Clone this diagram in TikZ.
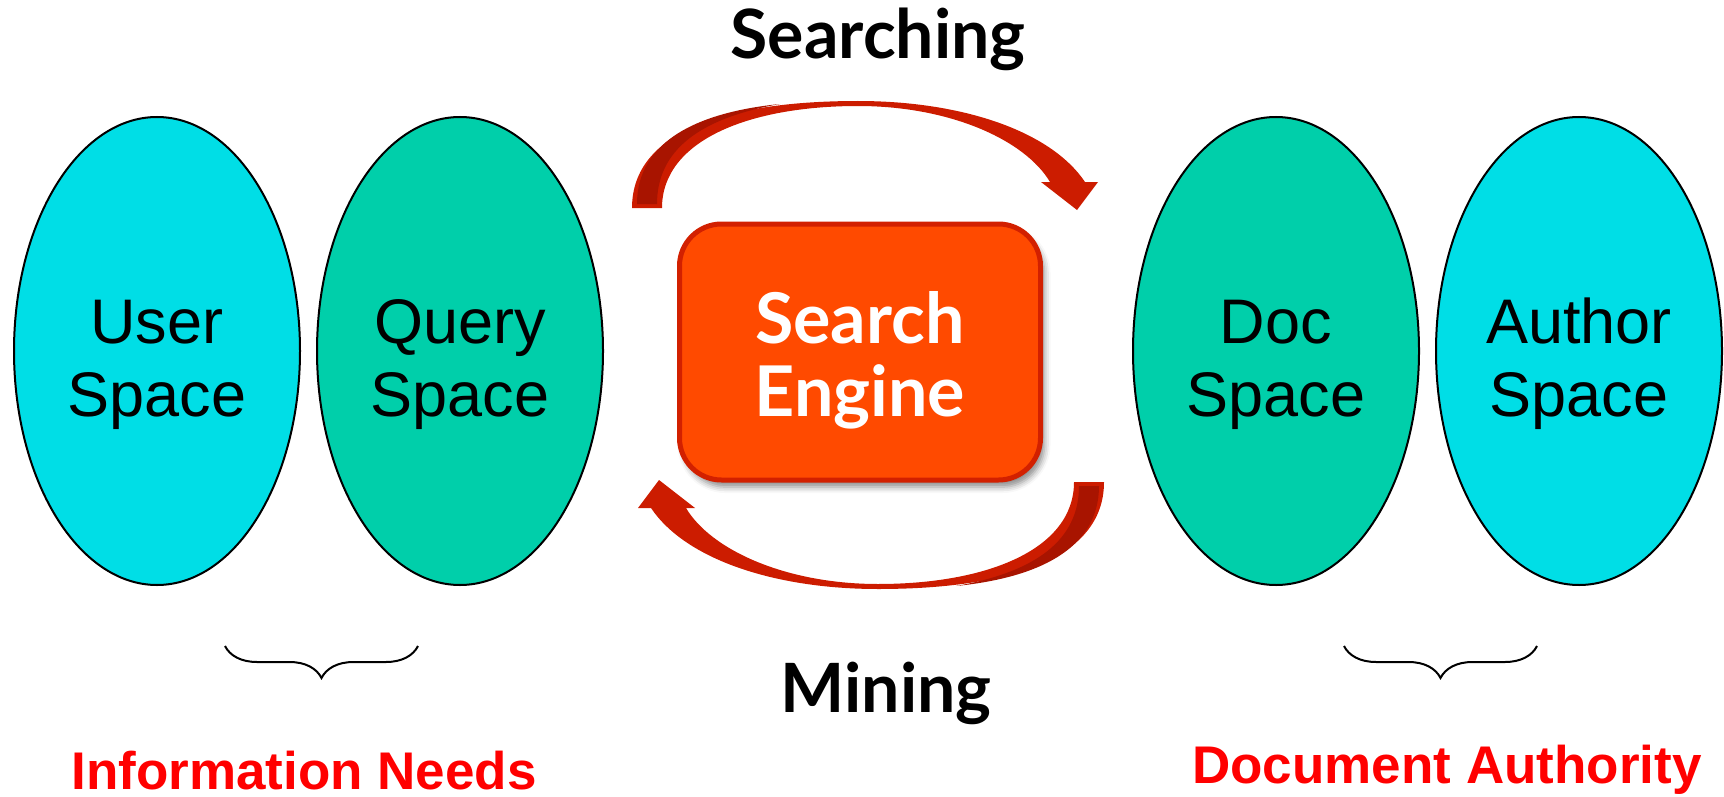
\documentclass[tikz,border=0pt]{standalone}
\usepackage{fontspec}
\setmainfont{Liberation Sans}
\newfontfamily\gillfont{Lato}
\usetikzlibrary{shapes.geometric,shadows.blur,decorations.pathreplacing}

\definecolor{usercyan}{RGB}{0,222,230}
\definecolor{querygreen}{RGB}{0,207,170}
\definecolor{engineorange}{RGB}{255,74,0}
\definecolor{engineborder}{RGB}{210,32,0}
\definecolor{arrowred}{RGB}{204,28,0}
\definecolor{arrowdark}{RGB}{168,20,0}
\definecolor{labelred}{RGB}{255,0,0}

\tikzset{
	spacebubble/.style={ellipse, draw=black, line width=2pt, minimum width=286pt, minimum height=468pt,
		inner sep=0pt, align=center, text height=131pt, text depth=0pt, font=\fontsize{63}{73}\selectfont},
	enginebox/.style={rectangle, rounded corners=42pt, draw=engineborder, line width=5pt, fill=engineorange,
		minimum width=361pt, minimum height=256pt, align=center, text=white, text height=128pt, text depth=0pt,
		font=\gillfont\bfseries\fontsize{70}{73}\selectfont,
		blur shadow={shadow xshift=4pt, shadow yshift=-7pt, shadow blur radius=6pt, shadow opacity=45}},
	flowlabel/.style={anchor=base, font=\gillfont\bfseries\fontsize{68}{80}\selectfont},
	needlabel/.style={anchor=base, text=labelred, font=\bfseries\fontsize{53}{60}\selectfont},
	bracket/.style={decorate, decoration={brace, mirror, amplitude=32pt}, line width=2pt}
}

% one curved 3D arrow, tail bottom left, head bottom right
\newcommand{\cyclearrow}{%
	\fill[arrowred] (632,208) .. controls (632,130) and (730,101) .. (858,101)
		.. controls (960,101) and (1050,130) .. (1085,182)
		-- (1098,182) -- (1077,210) -- (1041,182) -- (1050,182)
		.. controls (1025,140) and (950,106) .. (858,106)
		.. controls (750,106) and (662,140) .. (662,208) -- cycle;
	\fill[arrowdark] (637,204) .. controls (637,140) and (700,112) .. (780,104)
		.. controls (700,118) and (657,150) .. (657,204) -- cycle;
}

\begin{document}
\begin{tikzpicture}[x=1pt, y=-1pt]
	\useasboundingbox (0,0) rectangle (1724,797);

	%%%%% spaces %%%%%
	\node[spacebubble, fill=usercyan] (user) at (157,351) {User\\Space};
	\node[spacebubble, fill=querygreen] (query) at (460,351) {Query\\Space};
	\node[spacebubble, fill=querygreen] (doc) at (1276,351) {Doc\\Space};
	\node[spacebubble, fill=usercyan] (author) at (1579,351) {Author\\Space};

	%%%%% engine %%%%%
	\node[enginebox] (engine) at (860,352) {Search\\Engine};

	\cyclearrow
	\begin{scope}[rotate around={180:(868,345)}]
		\cyclearrow
	\end{scope}

	\node[flowlabel] (searching) at (878,59) {Searching};
	\node[flowlabel] (mining) at (886,712) {Mining};

	%%%%% braces %%%%%
	\coordinate (needsL) at (225,646);
	\coordinate (needsR) at (418,646);
	\coordinate (authL) at (1344,646);
	\coordinate (authR) at (1537,646);
	\draw[bracket] (needsL) -- (needsR);
	\draw[bracket] (authL) -- (authR);

	\node[needlabel] (needs) at (304,789) {Information Needs};
	\node[needlabel] (authority) at (1447,783) {Document Authority};
\end{tikzpicture}
\end{document}
